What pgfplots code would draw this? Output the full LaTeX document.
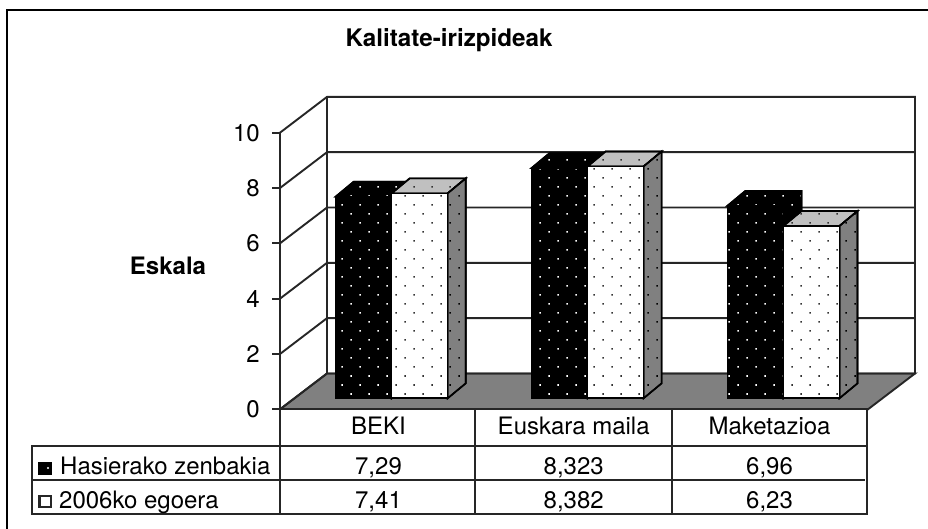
\documentclass[border=0pt]{standalone}
\usepackage{pgfplots}
\pgfplotsset{compat=1.18}
\usepackage{fontspec}
\setmainfont{TeX Gyre Heros}
\usetikzlibrary{patterns.meta}
\definecolor{floorgray}{HTML}{808080}
\definecolor{topgray}{HTML}{C0C0C0}
\tikzset{
  blackdots/.style={preaction={fill=black},pattern={Dots[distance=12.73pt,angle=45,radius=1.1pt]},pattern color=white},
  whitedots/.style={preaction={fill=white},pattern={Dots[distance=12.73pt,angle=45,radius=1.1pt]},pattern color=black!80},
  topdots/.style={preaction={fill=topgray},pattern={Dots[distance=12.73pt,angle=45,radius=1.1pt]},pattern color=black!80},
  sidedots/.style={preaction={fill=floorgray},pattern={Dots[distance=12.73pt,angle=45,radius=1.1pt]},pattern color=black},
  ln/.style={line width=1.9pt,line cap=rect,black!85}
}
\begin{document}
\fontsize{24}{28}\selectfont
\begin{tikzpicture}[x=1pt,y=1pt,line width=1.9pt]
\path[use as bounding box,fill=white] (0,0) rectangle (928,529);
\draw[line width=2.6pt] (7,0) -- (7,519) -- (928,519);
% frame axis: x in pixels from the front corner, y the scale
\begin{axis}[
  at={(280pt,119.7pt)},anchor=south west,scale only axis,
  width=635pt,height=276.6pt,
  xmin=0,xmax=635,ymin=0,ymax=10,clip=false,
  axis x line=none,axis y line=left,
  y axis line style={-,line width=1.9pt,black!85},
  ytick={0,2,4,6,8,10},
  tick style={black!85,line width=1.9pt},
  major tick length=8pt,tick align=outside,
  /pgf/number format/assume math mode=true,
  ticklabel style={font=\fontsize{24}{28}\selectfont},
  yticklabel style={inner sep=0pt,xshift=-12pt},
  every axis title shift=0pt,
  title={\bfseries Kalitate-irizpideak},
  title style={at={(axis cs:169,13.35)},anchor=center,inner sep=0pt,font=\fontsize{24.2}{28}\selectfont},
  ylabel={\bfseries Eskala},
  ylabel style={at={(axis cs:-112,5.2)},rotate=-90,anchor=center,inner sep=0pt,font=\fontsize{24}{28}\selectfont},
]
\fill[floorgray] (axis cs:0,0) -- (axis cs:47,1.295) -- (axis cs:635,1.295) -- (axis cs:588,0) -- cycle;
\draw[ln] (axis cs:0,0) -- (axis cs:47,1.295) -- (axis cs:635,1.295) -- (axis cs:588,0);
\foreach \k in {0,2,4,6,8,10} {
  \edef\tmp{\noexpand\draw[ln] (axis cs:0,\k) -- (axis cs:47,\k+1.295) -- (axis cs:635,\k+1.295);}\tmp
}
\draw[ln] (axis cs:47,1.295) -- (axis cs:47,11.295);
\draw[ln] (axis cs:635,1.295) -- (axis cs:635,11.295);
\end{axis}
% bars
\begin{axis}[
  at={(293.7pt,130.7pt)},anchor=south west,scale only axis,
  width=587.7pt,height=276.6pt,
  xmin=-0.5,xmax=2.5,ymin=0,ymax=10,clip=false,
  axis lines=none,
  every axis plot/.append style={line width=1.6pt},
]
% Hasierako zenbakia
\addplot[ybar,bar width=56pt,bar shift=-28pt,draw=black,blackdots] coordinates {(0,7.29)(1,8.323)(2,6.96)};
\addplot[draw=black,blackdots] coordinates {(-0.286,7.29)(-0.194,7.83)(0.092,7.83)(0.092,0.54)(0,0)(0,7.29)} -- cycle;
\addplot[draw=black,blackdots] coordinates {(0.714,8.323)(0.806,8.863)(1.092,8.863)(1.092,0.54)(1,0)(1,8.323)} -- cycle;
\addplot[draw=black,blackdots] coordinates {(1.714,6.96)(1.806,7.5)(2.092,7.5)(2.092,0.54)(2,0)(2,6.96)} -- cycle;
% 2006ko egoera
\addplot[draw=black,topdots] coordinates {(0,7.41)(0.092,7.95)(0.378,7.95)(0.286,7.41)} -- cycle;
\addplot[draw=black,sidedots] coordinates {(0.286,7.41)(0.378,7.95)(0.378,0.54)(0.286,0)} -- cycle;
\addplot[draw=black,topdots] coordinates {(1,8.382)(1.092,8.922)(1.378,8.922)(1.286,8.382)} -- cycle;
\addplot[draw=black,sidedots] coordinates {(1.286,8.382)(1.378,8.922)(1.378,0.54)(1.286,0)} -- cycle;
\addplot[draw=black,topdots] coordinates {(2,6.23)(2.092,6.77)(2.378,6.77)(2.286,6.23)} -- cycle;
\addplot[draw=black,sidedots] coordinates {(2.286,6.23)(2.378,6.77)(2.378,0.54)(2.286,0)} -- cycle;
\addplot[ybar,bar width=56pt,bar shift=28pt,draw=black,whitedots] coordinates {(0,7.41)(1,8.382)(2,6.23)};
\end{axis}
% data table
\draw[ln] (280,120) -- (280,15);
\draw[ln] (475,120) -- (475,15);
\draw[ln] (672.3,120) -- (672.3,15);
\draw[ln] (866.7,120) -- (866.7,15);
\draw[ln] (31.7,83) -- (866.7,83);
\draw[ln] (31.7,49) -- (864,49);
\draw[ln] (31.7,83) -- (31.7,15) -- (866.7,15);
\draw[ln] (280,120) -- (868,120);
\node[anchor=base,inner sep=0pt] at (378.5,94) {BEKI};
\node[anchor=base,inner sep=0pt] at (573.7,94) {Euskara maila};
\node[anchor=base,inner sep=0pt] at (769.5,94) {Maketazioa};
\node[anchor=base west,inner sep=0pt] at (60,54) {Hasierako zenbakia};
\node[anchor=base west,inner sep=0pt] at (59,20.7) {2006ko egoera};
\node[anchor=base,inner sep=0pt] at (378.5,54) {7,29};
\node[anchor=base,inner sep=0pt] at (573.7,54) {8,323};
\node[anchor=base,inner sep=0pt] at (769.5,54) {6,96};
\node[anchor=base,inner sep=0pt] at (378.5,20.7) {7,41};
\node[anchor=base,inner sep=0pt] at (573.7,20.7) {8,382};
\node[anchor=base,inner sep=0pt] at (769.5,20.7) {6,23};
\fill[black] (38,54) rectangle (52,67);
\fill[white] (48,61) circle (1.1);
\draw[line width=2.2pt,black!85,fill=white] (39.5,22) rectangle (51,33);
\end{tikzpicture}
\end{document}
